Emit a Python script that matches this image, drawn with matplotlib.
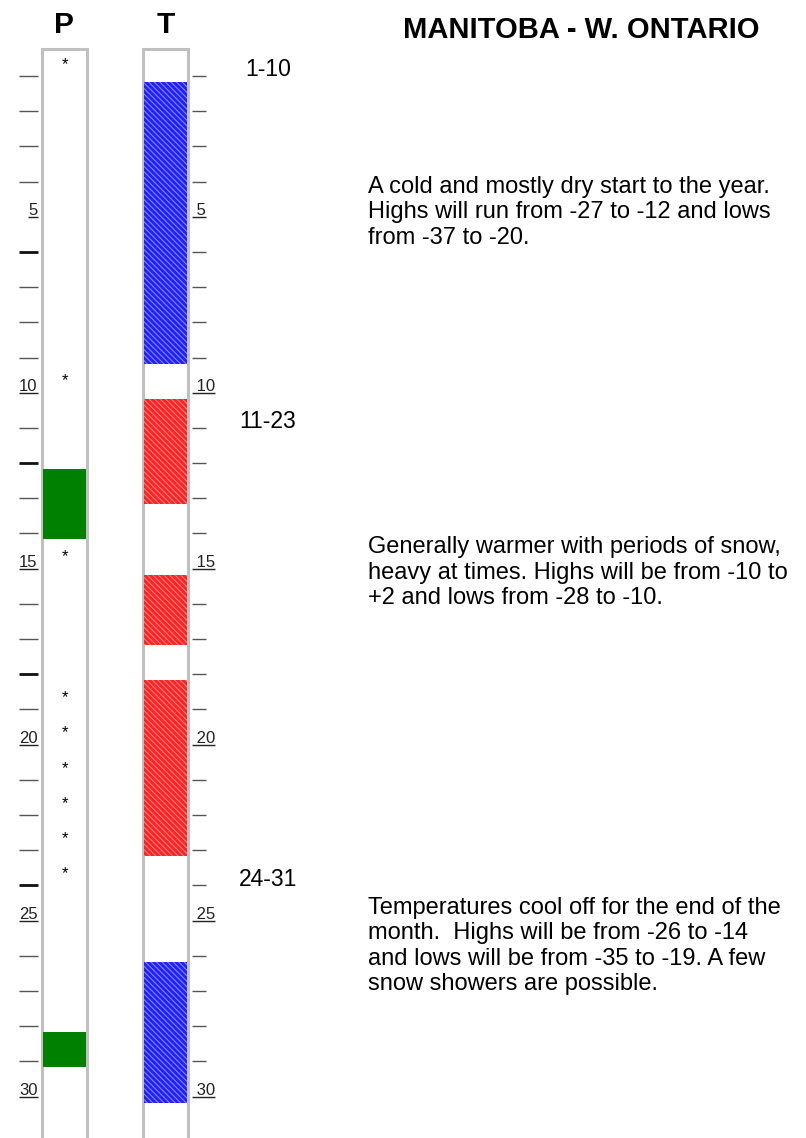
import numpy as np
import matplotlib
matplotlib.use('Agg')
import matplotlib.pyplot as plt
from matplotlib.patches import Rectangle

plt.rcParams['font.family'] = ['Liberation Sans', 'DejaVu Sans']
plt.rcParams['hatch.linewidth'] = 0.9

# 月份数据
days = np.arange(1, 32)
label_days = [5, 10, 15, 20, 25, 30]
heavy_days = [6, 12, 18, 24]           # 左侧加粗刻度
snow_days = [1, 10, 15, 19, 20, 21, 22, 23, 24]
precip_days = [13, 14, 29]
warm_days = [11, 12, 13, 16, 17, 19, 20, 21, 22, 23]
cold_days = [2, 3, 4, 5, 6, 7, 8, 9, 27, 28, 29, 30]

periods = ['1-10', '11-23', '24-31']
period_start = [1, 11, 24]
period_text = [
    "A cold and mostly dry start to the year.\nHighs will run from -27 to -12 and lows\nfrom -37 to -20.",
    "Generally warmer with periods of snow,\nheavy at times. Highs will be from -10 to\n+2 and lows from -28 to -10.",
    "Temperatures cool off for the end of the\nmonth.  Highs will be from -26 to -14\nand lows will be from -35 to -19. A few\nsnow showers are possible.",
]
text_center = [4.7, 14.95, 25.55]

title = 'MANITOBA - W. ONTARIO'

# 像素布局
W, H = 806, 1138
top_px, row_px = 46.8, 35.19
p_left, p_right = 40, 88
t_left, t_right = 141, 189


def runs(lst):
    # 把连续的日期合并成区间
    lst = sorted(lst)
    out = []
    start = prev = lst[0]
    for d in lst[1:]:
        if d == prev + 1:
            prev = d
        else:
            out.append((start, prev))
            start = prev = d
    out.append((start, prev))
    return out


fig = plt.figure(figsize=(W / 100, H / 100), dpi=100)
ax = fig.add_axes([0, 0, 1, 1])
ax.set_xlim(0, W)
ax.set_ylim((H - top_px) / row_px, -top_px / row_px)
ax.axis('off')

# 两个柱框
for x0, x1 in [(p_left, p_right), (t_left, t_right)]:
    ax.add_patch(Rectangle((x0 + 1.5, 0.05), x1 - x0 - 3, 32, facecolor='white',
                           edgecolor='#c0c0c0', linewidth=2.2, zorder=1))

# 降水 (绿色) 和 气温 (红/蓝)
for a, b in runs(precip_days):
    ax.barh(a - 1, 43, left=43, height=b - a + 1, align='edge', color='#008000',
            linewidth=0, zorder=2)
for a, b in runs(warm_days):
    ax.barh(a - 1, 43, left=144, height=b - a + 1, align='edge', facecolor='#ff2020',
            edgecolor='#ff7a7a', hatch='\\\\\\\\\\\\', linewidth=0, zorder=2)
for a, b in runs(cold_days):
    ax.barh(a - 1, 43, left=144, height=b - a + 1, align='edge', facecolor='#1e1eff',
            edgecolor='#7f7fff', hatch='\\\\\\\\\\\\', linewidth=0, zorder=2)

for d in snow_days:
    ax.text(65, d - 0.5, '*', ha='center', va='center', fontsize=12, color='black', zorder=3)

# 刻度和日期标签
fig.canvas.draw()
renderer = fig.canvas.get_renderer()
for d in days[:30]:
    ty = d - 0.17
    if d in label_days:
        t1 = ax.text(37.5, ty - 0.04, str(d), ha='right', va='baseline', fontsize=12, color='#222222')
        t2 = ax.text(192, ty - 0.04, ' ' + str(d), ha='left', va='baseline', fontsize=12, color='#222222')
        for t in (t1, t2):
            bb = t.get_window_extent(renderer).transformed(ax.transData.inverted())
            ax.plot([bb.x0, bb.x1], [ty, ty], color='#222222', lw=1.0, solid_capstyle='butt')
    else:
        lw = 2.0 if d in heavy_days else 1.0
        c = '#111111' if d in heavy_days else '#555555'
        ax.plot([19, 37.5], [ty, ty], color=c, lw=lw, solid_capstyle='butt')
        ax.plot([192, 206], [ty, ty], color='#555555', lw=1.0, solid_capstyle='butt')

# 标题
ax.text(64, (25 - top_px) / row_px, 'P', ha='center', va='center', fontsize=21.5, fontweight='bold')
ax.text(166, (25 - top_px) / row_px, 'T', ha='center', va='center', fontsize=21.5, fontweight='bold')
ax.text(581, (30 - top_px) / row_px, title, ha='center', va='center', fontsize=21, fontweight='bold')

for name, s in zip(periods, period_start):
    ax.text(268, s - 0.35, name, ha='center', va='center', fontsize=16.5)
for txt, c in zip(period_text, text_center):
    ax.text(368, c, txt, ha='left', va='center', fontsize=17, linespacing=1.2)

fig.savefig('out.png', dpi=100)
